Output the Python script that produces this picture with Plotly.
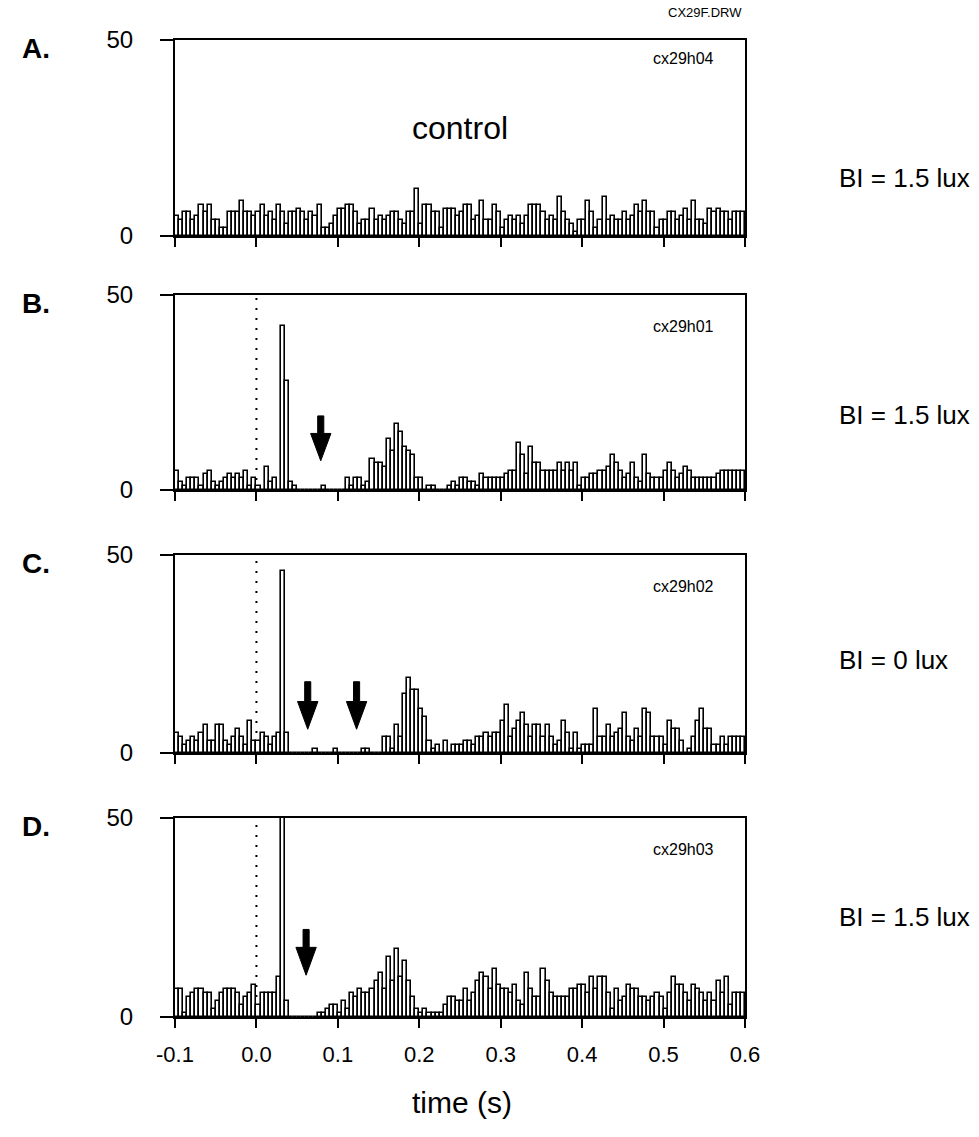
import plotly.graph_objects as go

# ---------------- data (counts per 5 ms bin, from -0.1 s to 0.6 s) ----------------
BIN_START = -0.1
BIN_WIDTH = 0.005

counts_A = (
    [5, 4, 6, 6, 4, 5, 8, 6, 8, 4, 4, 2, 2, 6, 6, 6, 9, 6, 6, 5]
    + [6, 8, 5, 6, 4, 8, 6, 3, 6, 6, 7, 6, 4, 6, 5, 8, 2, 2, 3, 5]
    + [7, 7, 8, 8, 6, 3, 4, 4, 7, 4, 5, 4, 5, 6, 6, 4, 3, 6, 6, 12]
    + [3, 8, 8, 6, 6, 2, 7]
    + [7, 7, 5, 6, 8, 8, 4, 5, 9, 4]
    + [4, 8, 6, 2, 4, 5, 4, 5, 3, 5]
    + [8, 8, 8, 6, 4, 5, 4, 10, 6, 4]
    + [3, 1, 4, 4, 9, 6, 2, 4, 10, 4]
    + [5, 4, 4, 6, 4, 5, 8, 6, 9, 6]
    + [6, 2, 4, 4, 6, 6, 4, 5, 7, 4]
    + [9, 4, 4, 3, 7, 6, 7, 6, 6, 4]
    + [6, 6, 6]
)

counts_B = (
    [5, 2, 1, 3, 3, 3, 1, 4, 5, 2, 1, 2, 3, 4, 3, 4, 3, 5, 1, 3]
    + [1, 0, 6, 2, 3, 0, 42, 28, 2, 1, 0, 0, 0, 0, 0, 0, 1, 0, 0, 0]
    + [0, 0, 3, 1, 3, 3, 1, 2, 8, 7, 7, 6, 13, 10, 17, 15, 11, 10, 9, 3]
    + [3, 0, 1, 1, 0, 0, 0]
    + [1, 2, 1, 3, 3, 2, 2, 1, 4, 3]
    + [3, 3, 3, 3, 4, 5, 5, 12, 9, 4]
    + [11, 7, 7, 5, 5, 5, 5, 7, 5, 7]
    + [5, 7, 1, 3, 3, 4, 4, 5, 5, 6]
    + [9, 7, 5, 3, 4, 7, 3, 2, 9, 4]
    + [3, 3, 3, 5, 7, 5, 3, 4, 6, 5]
    + [3, 3, 3, 3, 3, 3, 4, 5, 5, 5]
    + [5, 5, 5]
)

counts_C = (
    [5, 4, 2, 3, 4, 3, 5, 7, 3, 3, 7, 7, 3, 2, 4, 6, 4, 2, 8, 3]
    + [3, 5, 4, 2, 4, 5, 46, 5, 0, 0, 0, 0, 0, 0, 1, 0, 0, 0, 0, 1]
    + [0, 0, 0, 0, 0, 0, 1, 1, 0, 0, 0, 4, 4, 1, 7, 4, 15, 19, 16, 16]
    + [11, 9, 3, 1, 2, 0, 3]
    + [0, 2, 2, 2, 3, 3, 2, 4, 4, 5]
    + [4, 5, 5, 8, 12, 4, 6, 8, 10, 7]
    + [4, 7, 7, 4, 7, 4, 2, 3, 8, 5]
    + [1, 5, 1, 2, 2, 2, 11, 4, 4, 7]
    + [4, 5, 6, 10, 4, 3, 6, 4, 11, 10]
    + [4, 4, 4, 2, 8, 6, 6, 3, 0, 1]
    + [4, 8, 11, 6, 6, 2, 2, 4, 2, 4]
    + [4, 4, 4]
)

counts_D = (
    [7, 7, 1, 5, 6, 7, 7, 6, 6, 2, 4, 6, 7, 7, 7, 6, 3, 5, 6, 8]
    + [3, 6, 6, 6, 6, 10, 50, 4, 0, 0, 0, 0, 0, 0, 0, 1, 1, 2, 3, 3]
    + [1, 4, 2, 6, 5, 7, 6, 6, 7, 9, 11, 7, 15, 9, 17, 10, 14, 9, 5, 2]
    + [1, 2, 1, 1, 1, 1, 3]
    + [5, 5, 4, 4, 7, 4, 6, 9, 11, 10]
    + [7, 12, 8, 7, 7, 6, 8, 4, 3, 11]
    + [7, 5, 5, 12, 9, 6, 5, 5, 5, 5]
    + [7, 7, 8, 8, 6, 10, 7, 10, 10, 6]
    + [2, 7, 4, 5, 8, 7, 7, 5, 5, 4]
    + [5, 6, 5, 2, 6, 10, 8, 8, 6, 4]
    + [8, 7, 6, 4, 6, 4, 9, 6, 10, 3]
    + [6, 6, 6]
)

panel_letters = ["A.", "B.", "C.", "D."]
file_labels = ["cx29h04", "cx29h01", "cx29h02", "cx29h03"]
light_labels = ["BI = 1.5 lux", "BI = 1.5 lux", "BI = 0 lux", "BI = 1.5 lux"]
x_ticks = [-0.1, 0.0, 0.1, 0.2, 0.3, 0.4, 0.5, 0.6]
x_tick_text = ["-0.1", "0.0", "0.1", "0.2", "0.3", "0.4", "0.5", "0.6"]
y_ticks = [0, 50]
stim_time = 0.0
# arrows: (panel index, time, shaft top, head base, tip) in data units
arrows = [(1, 0.079, 19, 14.5, 7.5),
          (2, 0.063, 18, 13, 6),
          (2, 0.123, 18, 13, 6),
          (3, 0.061, 22, 17.5, 10.5)]

all_counts = [counts_A, counts_B, counts_C, counts_D]

# ---------------- layout geometry ----------------
W, H = 979, 1137
X_L, X_R = 175, 745
panel_px = [(40, 236), (295, 490), (555, 753), (818, 1017)]
label_px_y = [178, 415, 660, 917]
FONT = "Arial, Liberation Sans, Helvetica, sans-serif"


def px_x(p):
    return p / W


def px_y(p):
    return 1 - p / H


fig = go.Figure()
layout = dict(
    template="none",
    width=W, height=H, margin=dict(l=0, r=0, t=0, b=0, pad=0, autoexpand=False),
    paper_bgcolor="white", plot_bgcolor="white",
    showlegend=False, bargap=0, font=dict(family=FONT, color="black"),
)

shapes = []
annotations = []

for i, counts in enumerate(all_counts):
    n = i + 1
    xa = "x" if n == 1 else f"x{n}"
    ya = "y" if n == 1 else f"y{n}"
    centers = [BIN_START + BIN_WIDTH * (k + 0.5) for k in range(len(counts))]
    fig.add_trace(go.Bar(
        x=centers, y=counts, width=BIN_WIDTH, xaxis=xa, yaxis=ya,
        marker=dict(color="white", line=dict(color="black", width=1.6)),
        hoverinfo="skip",
    ))
    top, bot = panel_px[i]
    xkey = "xaxis" if n == 1 else f"xaxis{n}"
    ykey = "yaxis" if n == 1 else f"yaxis{n}"
    layout[xkey] = dict(
        domain=[px_x(X_L), px_x(X_R)], range=[-0.1, 0.6], anchor=ya,
        automargin=False,
        showgrid=False, zeroline=False, showline=True, mirror=True,
        linecolor="black", linewidth=2, ticks="outside", ticklen=9,
        tickwidth=2, tickcolor="black", tickvals=x_ticks, ticktext=x_tick_text,
        showticklabels=(n == 4), tickfont=dict(size=22, family=FONT),
        ticklabelstandoff=8,
    )
    layout[ykey] = dict(
        domain=[px_y(bot), px_y(top)], range=[0, 50], anchor=xa,
        automargin=False,
        showgrid=False, zeroline=False, showline=True, mirror=True,
        linecolor="black", linewidth=2, ticks="outside", ticklen=13,
        tickwidth=2, tickcolor="black", tickvals=y_ticks,
        ticktext=[str(v) for v in y_ticks],
        tickfont=dict(size=24, family=FONT), ticklabelstandoff=22,
    )
    if i > 0:
        shapes.append(dict(
            type="line", xref=xa, yref=ya, x0=stim_time, x1=stim_time,
            y0=0, y1=50, layer="below",
            line=dict(color="black", width=2, dash="2px,8px"),
        ))
    # panel letter
    annotations.append(dict(
        text=f"<b>{panel_letters[i]}</b>", x=px_x(36), y=px_y(top + 8),
        xref="paper", yref="paper", showarrow=False,
        font=dict(size=28, family=FONT), xanchor="center", yanchor="middle",
    ))
    # file label
    label_y = top + 18 if i == 0 else top + 31
    annotations.append(dict(
        text=file_labels[i], x=px_x(716), y=px_y(label_y),
        xref="paper", yref="paper", showarrow=False,
        font=dict(size=16, family=FONT), xanchor="right", yanchor="middle",
    ))
    # light level label
    annotations.append(dict(
        text=light_labels[i], x=px_x(837), y=px_y(label_px_y[i]),
        xref="paper", yref="paper", showarrow=False,
        font=dict(size=26, family=FONT), xanchor="left", yanchor="middle",
    ))

# arrows
SHAFT_W = 0.0075
HEAD_W = 0.025
for (pi, t, ytop, yhead, ytip) in arrows:
    n = pi + 1
    xa = "x" if n == 1 else f"x{n}"
    ya = "y" if n == 1 else f"y{n}"
    path = (f"M {t - SHAFT_W / 2} {ytop} L {t + SHAFT_W / 2} {ytop} "
            f"L {t + SHAFT_W / 2} {yhead} L {t + HEAD_W / 2} {yhead} "
            f"L {t} {ytip} L {t - HEAD_W / 2} {yhead} "
            f"L {t - SHAFT_W / 2} {yhead} Z")
    shapes.append(dict(type="path", path=path, xref=xa, yref=ya,
                       fillcolor="black", line=dict(color="black", width=1),
                       layer="above"))

annotations += [
    dict(text="CX29F.DRW", x=px_x(705), y=px_y(12), xref="paper", yref="paper",
         showarrow=False, font=dict(size=13, family=FONT),
         xanchor="center", yanchor="middle"),
    dict(text="control", x=px_x(460), y=px_y(128), xref="paper", yref="paper",
         showarrow=False, font=dict(size=32, family=FONT),
         xanchor="center", yanchor="middle"),
    dict(text="time (s)", x=px_x(462), y=px_y(1102), xref="paper", yref="paper",
         showarrow=False, font=dict(size=30, family=FONT),
         xanchor="center", yanchor="middle"),
]

layout["shapes"] = shapes
layout["annotations"] = annotations
fig.update_layout(**layout)
fig.write_html("out.html")
